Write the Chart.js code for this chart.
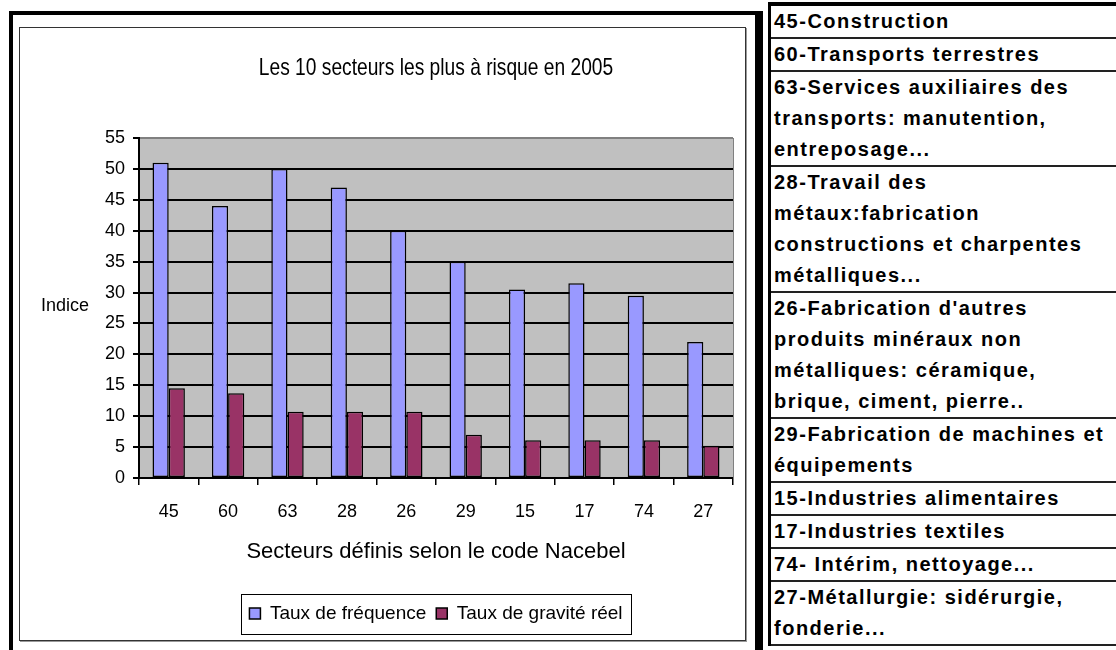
<!DOCTYPE html>
<html lang="fr">
<head>
<meta charset="utf-8">
<title>Les 10 secteurs les plus à risque en 2005</title>
<script src="https://cdn.jsdelivr.net/npm/chart.js@4.4.1/dist/chart.umd.min.js"></script>
<style>
  html, body { margin: 0; padding: 0; background: #fff; width: 1116px; height: 650px; overflow: hidden; }
  #outer {
    position: absolute; left: 9px; top: 11px; width: 742px; height: 650px;
    border-top: 4px solid #000; border-left: 4px solid #000; border-right: 8px solid #000;
  }
  #inner {
    position: absolute; left: 19px; top: 27px; width: 725px; height: 612px;
    border: 1px solid #333; box-shadow: 1px 1px 0 #999;
  }
  #chart { position: absolute; left: 20px; top: 28px; }
  #codes {
    position: absolute; left: 768px; top: 2px; width: 420px;
    border-top: 4px solid #000; border-left: 3px solid #000;
    font-family: "Liberation Sans", Arial, sans-serif; font-weight: bold;
    font-size: 20px; letter-spacing: 1.5px; color: #000;
  }
  #codes div {
    padding-left: 3px; line-height: 31px; white-space: nowrap;
    border-bottom: 2px solid #222;
  }
</style>
</head>
<body>
<div id="outer"></div>
<div id="inner"></div>
<canvas id="chart" width="725" height="612"></canvas>

<div id="codes">
  <div>45-Construction</div>
  <div>60-Transports terrestres</div>
  <div>63-Services auxiliaires des<br>transports: manutention,<br>entreposage...</div>
  <div>28-Travail des<br>métaux:fabrication<br>constructions et charpentes<br>métalliques...</div>
  <div>26-Fabrication d'autres<br>produits minéraux non<br>métalliques: céramique,<br>brique, ciment, pierre..</div>
  <div>29-Fabrication de machines et<br>équipements</div>
  <div>15-Industries alimentaires</div>
  <div>17-Industries textiles</div>
  <div>74- Intérim, nettoyage...</div>
  <div>27-Métallurgie: sidérurgie,<br>fonderie...</div>
</div>

<script>
// données
const categories = ['45', '60', '63', '28', '26', '29', '15', '17', '74', '27'];
const tauxFrequence = [51, 44, 50, 47, 40, 35, 30.5, 31.5, 29.5, 22];
const tauxGravite = [14.5, 13.7, 10.7, 10.7, 10.7, 7, 6.1, 6.1, 6.1, 5.2];
const seriesNames = ['Taux de fréquence', 'Taux de gravité réel'];
const chartTitle = 'Les 10 secteurs les plus à risque en 2005';
const yMax = 55;
const yStep = 5;

Chart.defaults.font.family = '"Liberation Sans", Arial, sans-serif';
Chart.defaults.color = '#000';

// fond gris de la zone de traçage
const plotBackground = {
  id: 'plotBackground',
  beforeDraw(chart) {
    const { ctx, chartArea: a } = chart;
    ctx.save();
    ctx.fillStyle = '#c0c0c0';
    ctx.fillRect(a.left, a.top, a.right - a.left, a.bottom - a.top);
    ctx.restore();
  },
  afterDraw(chart) {
    const { ctx, chartArea: a } = chart;
    ctx.save();
    ctx.strokeStyle = '#808080';
    ctx.lineWidth = 1;
    ctx.beginPath();
    ctx.moveTo(a.right + 0.5, a.top);
    ctx.lineTo(a.right + 0.5, a.bottom);
    ctx.stroke();
    ctx.restore();
  }
};

// titre un peu étroit, comme dans Excel
const narrowTitle = {
  id: 'narrowTitle',
  afterDraw(chart) {
    const { ctx, chartArea: a } = chart;
    ctx.save();
    ctx.font = '24px "Liberation Sans", Arial, sans-serif';
    ctx.fillStyle = '#000';
    ctx.textAlign = 'center';
    ctx.textBaseline = 'middle';
    const cx = (a.left + a.right) / 2;
    ctx.translate(cx, 40);
    ctx.scale(0.8, 1);
    ctx.fillText(chartTitle, 0, 0);
    ctx.restore();
  }
};

// titre horizontal de l'axe Y
const yTitle = {
  id: 'yTitle',
  afterDraw(chart) {
    const { ctx, chartArea: a } = chart;
    ctx.save();
    ctx.font = '18px "Liberation Sans", Arial, sans-serif';
    ctx.fillStyle = '#000';
    ctx.textAlign = 'center';
    ctx.textBaseline = 'middle';
    ctx.fillText('Indice', 45, (a.top + a.bottom) / 2 - 2);
    ctx.restore();
  }
};

// cadre autour de la légende
const legendFrame = {
  id: 'legendFrame',
  afterDraw(chart) {
    const boxes = chart.legend.legendHitBoxes;
    if (!boxes || !boxes.length) return;
    const left = Math.min(...boxes.map(b => b.left)) - 8;
    const right = Math.max(...boxes.map(b => b.left + b.width)) + 9;
    const mid = boxes[0].top + boxes[0].height / 2;
    const { ctx } = chart;
    ctx.save();
    ctx.strokeStyle = '#000';
    ctx.lineWidth = 1;
    ctx.strokeRect(Math.round(left) + 0.5, Math.round(mid - 20) + 0.5, Math.round(right - left), 40);
    ctx.restore();
  }
};

new Chart(document.getElementById('chart'), {
  type: 'bar',
  data: {
    labels: categories,
    datasets: [
      {
        label: seriesNames[0],
        data: tauxFrequence,
        backgroundColor: '#9999ff',
        borderColor: '#000',
        borderWidth: 1.5,
        borderSkipped: false
      },
      {
        label: seriesNames[1],
        data: tauxGravite,
        backgroundColor: '#993366',
        borderColor: '#000',
        borderWidth: 1.5,
        borderSkipped: false
      }
    ]
  },
  options: {
    responsive: false,
    animation: false,
    devicePixelRatio: 1,
    events: [],
    categoryPercentage: 0.545,
    barPercentage: 1.0,
    layout: { padding: { left: 0, right: 12, top: 110, bottom: 7 } },
    plugins: {
      title: { display: false },
      legend: {
        display: true,
        position: 'bottom',
        fullSize: false,
        labels: {
          boxWidth: 11,
          boxHeight: 11,
          padding: 10,
          color: '#000',
          font: { size: 19 }
        }
      },
      tooltip: { enabled: false }
    },
    scales: {
      x: {
        grid: {
          drawOnChartArea: false,
          drawTicks: true,
          tickLength: 7,
          color: '#000',
          lineWidth: 1.5,
          offset: true
        },
        border: { color: '#000', width: 2 },
        ticks: { font: { size: 18 }, color: '#000', padding: 16, maxRotation: 0 },
        title: {
          display: true,
          text: 'Secteurs définis selon le code Nacebel',
          color: '#000',
          font: { size: 22 },
          padding: { top: 0, bottom: 29 }
        },
        afterFit(scale) { scale.height = 116; }
      },
      y: {
        min: 0,
        max: yMax,
        grid: {
          color: (c) => (c.tick && c.tick.value === yMax ? '#808080' : '#000'),
          tickColor: '#000',
          tickLength: 6,
          lineWidth: 2
        },
        border: { color: '#000', width: 2 },
        ticks: { stepSize: yStep, font: { size: 18 }, color: '#000', padding: 8 },
        afterFit(scale) { scale.width = 119; }
      }
    }
  },
  plugins: [plotBackground, narrowTitle, yTitle, legendFrame]
});
</script>
</body>
</html>
